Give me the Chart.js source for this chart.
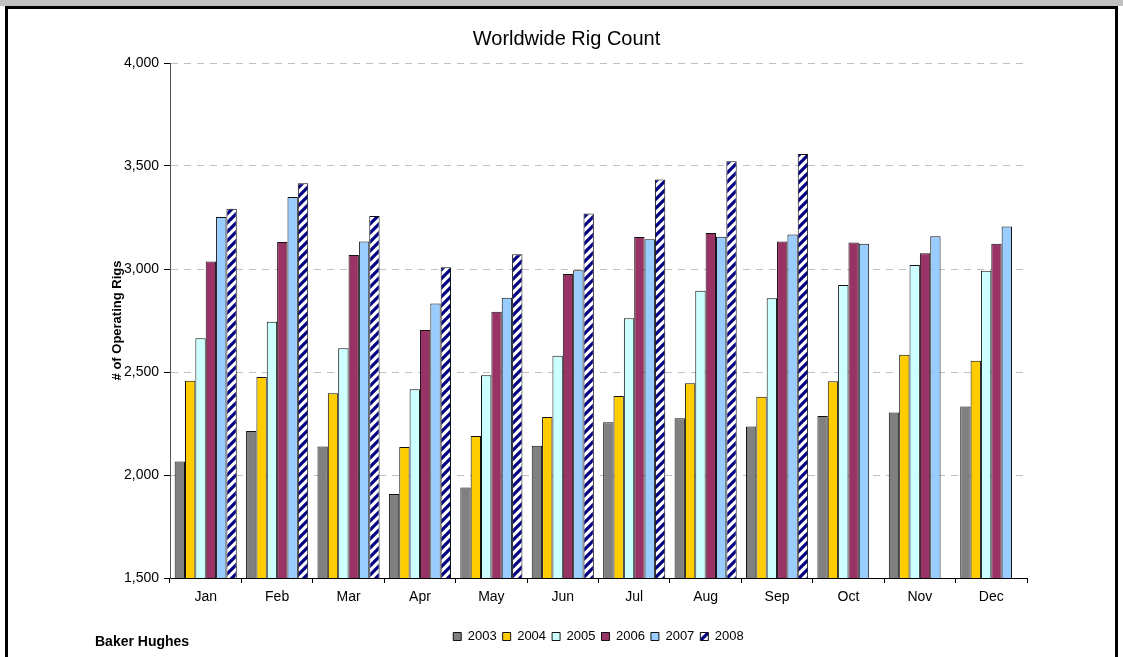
<!DOCTYPE html>
<html>
<head>
<meta charset="utf-8">
<script src="https://cdn.jsdelivr.net/npm/chart.js@4.4.1/dist/chart.umd.min.js"></script>
<style>
  body { margin: 0; background: #fff; font-family: "Liberation Sans", Arial, sans-serif; }
  #wrap { position: relative; width: 1123px; height: 657px; overflow: hidden; }
  #topband { position: absolute; left: 0; top: 0; width: 1123px; height: 6px; background: #c0c0c0; }
  #frame { position: absolute; left: 5px; top: 6px; width: 1107px; height: 670px; border: 3px solid #000; }
  #chart { position: absolute; left: 0; top: 0; }
  #source { position: absolute; left: 95px; top: 633px; font-size: 14px; font-weight: bold; color: #000; }
</style>
</head>
<body>
<div id="wrap">
  <div id="topband"></div>
  <div id="frame"></div>
  <canvas id="chart" width="1123" height="657"></canvas>
  <div id="source">Baker Hughes</div>
</div>
<script>
const months = ['Jan', 'Feb', 'Mar', 'Apr', 'May', 'Jun', 'Jul', 'Aug', 'Sep', 'Oct', 'Nov', 'Dec'];
const years = ['2003', '2004', '2005', '2006', '2007', '2008'];

const rigs2003 = [2065, 2214, 2138, 1908, 1939, 2142, 2256, 2275, 2235, 2286, 2303, 2332];
const rigs2004 = [2458, 2476, 2397, 2136, 2189, 2282, 2384, 2445, 2380, 2455, 2584, 2555];
const rigs2005 = [2664, 2744, 2615, 2416, 2484, 2579, 2761, 2895, 2858, 2922, 3019, 2992];
const rigs2006 = [3036, 3131, 3068, 2704, 2793, 2976, 3155, 3175, 3134, 3129, 3076, 3123];
const rigs2007 = [3252, 3350, 3134, 2833, 2861, 2994, 3144, 3157, 3167, 3123, 3159, 3206];
const rigs2008 = [3293, 3416, 3257, 3008, 3071, 3269, 3435, 3523, 3558, null, null, null];

const yTicks = [1500, 2000, 2500, 3000, 3500, 4000];

// navy diagonal stripes for 2008
function stripes() {
    const n = 9;
    const c = document.createElement('canvas');
    c.width = n;
    c.height = n;
    const g = c.getContext('2d');
    g.fillStyle = '#fff';
    g.fillRect(0, 0, n, n);
    g.strokeStyle = '#000080';
    g.lineWidth = 3.2;
    g.beginPath();
    g.moveTo(-2, n + 2); g.lineTo(n + 2, -2);
    g.moveTo(-2, 2); g.lineTo(2, -2);
    g.moveTo(n - 2, n + 2); g.lineTo(n + 2, n - 2);
    g.stroke();
    return g.createPattern(c, 'repeat');
}

const colors = ['#808080', '#ffcc00', '#ccffff', '#993366', '#99ccff', stripes()];
const series = [rigs2003, rigs2004, rigs2005, rigs2006, rigs2007, rigs2008];

const font = 'Liberation Sans';

const ctx = document.getElementById('chart').getContext('2d');
new Chart(ctx, {
    type: 'bar',
    data: {
        labels: months,
        datasets: series.map((d, i) => ({
            label: years[i],
            data: d,
            backgroundColor: colors[i],
            borderColor: '#111',
            borderWidth: 1,
            categoryPercentage: 0.87,
            barPercentage: 1.0
        }))
    },
    options: {
        responsive: false,
        animation: false,
        devicePixelRatio: 1,
        layout: { padding: { left: 106, right: 96, top: 0, bottom: 4 } },
        plugins: {
            title: {
                display: true,
                text: 'Worldwide Rig Count',
                color: '#000',
                font: { family: font, size: 20, weight: 'normal' },
                padding: { top: 27, bottom: 12 }
            },
            legend: {
                position: 'bottom',
                fullSize: false,
                labels: {
                    color: '#000',
                    font: { family: font, size: 13 },
                    boxWidth: 8,
                    boxHeight: 8,
                    padding: 6
                }
            },
            tooltip: { enabled: false }
        },
        scales: {
            x: {
                grid: { display: true, offset: true, drawOnChartArea: false, drawTicks: true, tickLength: 5, tickColor: '#000' },
                border: { color: '#000', width: 1 },
                ticks: { color: '#000', padding: 6, font: { family: font, size: 14 } },
                afterFit: (s) => { s.height = 46; }
            },
            y: {
                min: 1500,
                max: 4000,
                afterBuildTicks: (s) => { s.ticks = yTicks.map(v => ({ value: v })); },
                grid: { color: '#c0c0c0', tickLength: 6, tickColor: '#000' },
                border: { color: '#555', width: 1, dash: [7, 6] },
                ticks: {
                    color: '#000',
                    padding: 5,
                    font: { family: font, size: 14 },
                    callback: (v) => v.toLocaleString('en-US')
                },
                title: {
                    display: true,
                    text: '# of Operating Rigs',
                    color: '#000',
                    font: { family: font, size: 13, weight: 'bold' },
                    padding: { top: 4, bottom: 0 }
                },
                afterFit: (s) => { s.width = 64; }
            }
        }
    }
});
</script>
</body>
</html>
